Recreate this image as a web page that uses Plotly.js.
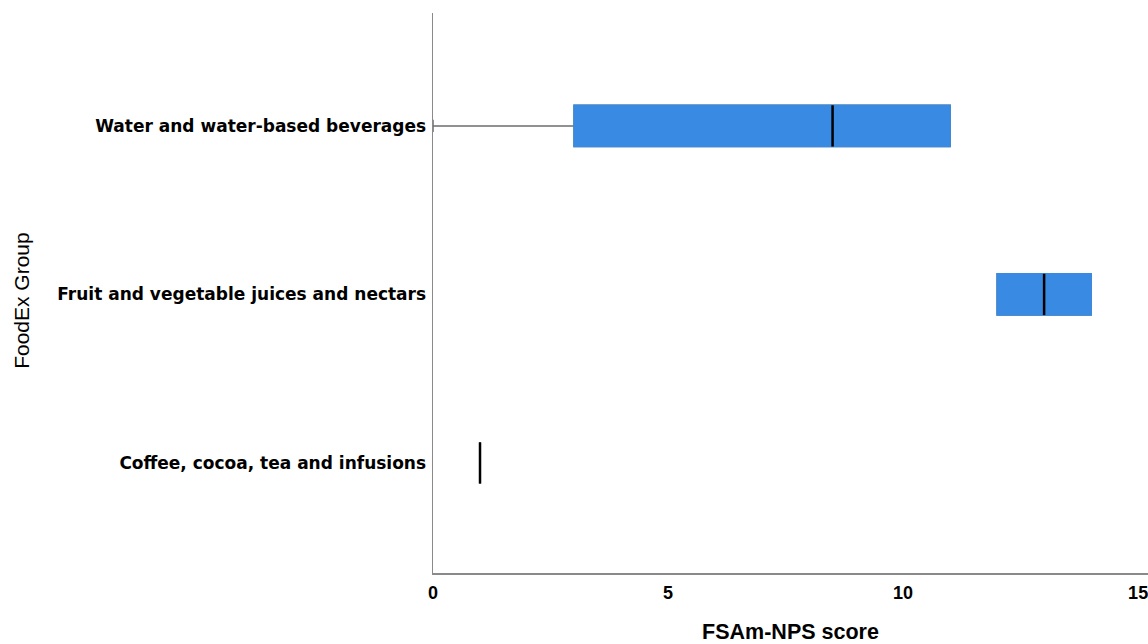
<!DOCTYPE html>
<html>
<head>
<meta charset="utf-8">
<script src="https://cdn.plot.ly/plotly-3.0.1.min.js"></script>
<style>html,body{margin:0;padding:0;background:#fff;}#chart{width:1148px;height:644px;}</style>
</head>
<body>
<div id="chart"></div>
<script>
// Data (bottom to top)
const categories = ["Coffee, cocoa, tea and infusions", "Fruit and vegetable juices and nectars", "Water and water-based beverages"];
const minVals = [1, 12, 0];
const q1Vals = [1, 12, 3];
const medianVals = [1, 13, 8.5];
const q3Vals = [1, 14, 11];
const maxVals = [1, 14, 11];
const xTicks = [0, 5, 10, 15];

const positions = categories.map((c, i) => i);
const boxWidth = 0.245;
const blue = '#388ae2';

// Whiskers + caps (gray)
const whiskers = {
  type: 'box', orientation: 'h', y: positions,
  q1: q1Vals, median: medianVals, q3: q3Vals,
  lowerfence: minVals, upperfence: maxVals,
  width: boxWidth, whiskerwidth: 0.3,
  fillcolor: blue, line: {color: '#6e6e6e', width: 1.5},
  hoverinfo: 'skip', showlegend: false
};
// Boxes (blue, covering gray outline)
const boxes = {
  type: 'box', orientation: 'h', y: positions,
  q1: q1Vals, median: medianVals, q3: q3Vals,
  lowerfence: q1Vals, upperfence: q3Vals,
  width: boxWidth, whiskerwidth: 0,
  fillcolor: blue, line: {color: blue, width: 1.5},
  hoverinfo: 'skip', showlegend: false
};
// Medians (black)
const mx = [], my = [];
medianVals.forEach((m, i) => {
  mx.push(m, m, null);
  my.push(positions[i] - boxWidth / 2, positions[i] + boxWidth / 2, null);
});
const medians = {
  type: 'scatter', mode: 'lines', x: mx, y: my,
  line: {color: '#000', width: 2.5}, hoverinfo: 'skip', showlegend: false
};

const layout = {
  width: 1148, height: 644,
  margin: {l: 433, r: 0, t: 13, b: 71},
  paper_bgcolor: '#fff', plot_bgcolor: '#fff',
  boxmode: 'overlay',
  showlegend: false,
  xaxis: {
    range: [0, 15.21], tickvals: xTicks, ticktext: xTicks.map(String),
    showgrid: false, zeroline: false, showline: true, linecolor: '#8a8a8a', linewidth: 1.5,
    ticks: '', ticklabeloverflow: 'allow', ticklabelstandoff: 3,
    tickfont: {family: 'Liberation Sans', size: 18, weight: 'bold', color: '#000'},
    title: {text: 'FSAm-NPS score', font: {family: 'Liberation Sans', size: 21.5, weight: 'bold', color: '#000'}, standoff: 31}
  },
  yaxis: {
    range: [-0.653, 2.67], tickvals: positions, ticktext: categories,
    showgrid: false, zeroline: false, showline: true, linecolor: '#8a8a8a', linewidth: 1.5,
    ticks: '', ticklabelstandoff: 2,
    tickfont: {family: 'DejaVu Sans', size: 17, weight: 'bold', color: '#000'}
  },
  annotations: [{
    text: 'FoodEx Group', textangle: -90, showarrow: false,
    xref: 'paper', yref: 'paper', x: 0, y: 0.486, xanchor: 'center', yanchor: 'middle',
    xshift: -411,
    font: {family: 'Liberation Sans', size: 21, color: '#000'}
  }],
  font: {family: 'Liberation Sans'}
};

Plotly.newPlot('chart', [whiskers, boxes, medians], layout, {displayModeBar: false, staticPlot: true});
</script>
</body>
</html>
